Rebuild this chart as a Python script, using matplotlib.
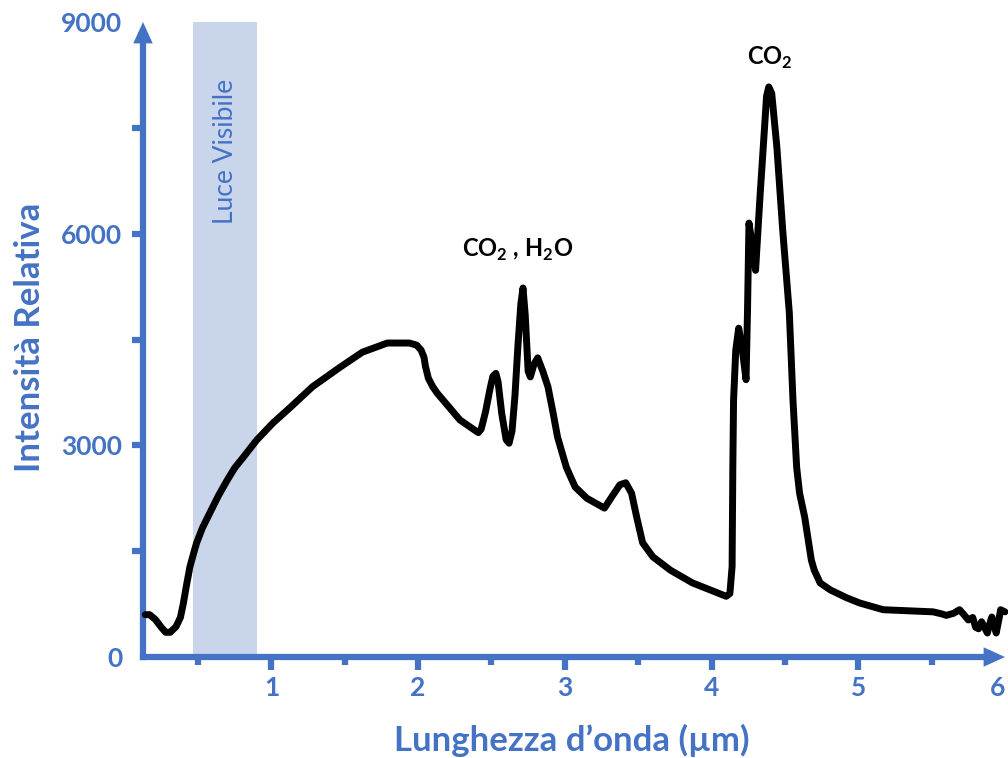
import numpy as np
import matplotlib
matplotlib.use("Agg")
import matplotlib.pyplot as plt

# --- Daten --------------------------------------------------------------------
wavelength = [
    0.14, 0.17, 0.21, 0.25, 0.28, 0.31, 0.35, 0.38, 0.40, 0.42, 0.445, 0.47,
    0.49, 0.53, 0.58, 0.64, 0.70, 0.75, 0.81, 0.90, 1.01, 1.13, 1.28, 1.47,
    1.62, 1.79, 1.94, 1.99, 2.02, 2.04, 2.05, 2.07, 2.10, 2.13, 2.285, 2.41,
    2.43, 2.46, 2.49, 2.51, 2.53, 2.545, 2.57, 2.60, 2.62, 2.64, 2.66, 2.68,
    2.70, 2.715, 2.73, 2.75, 2.765, 2.79, 2.815, 2.85, 2.885, 2.92, 2.95, 3.01,
    3.07, 3.15, 3.27, 3.32, 3.375, 3.415, 3.455, 3.49, 3.53, 3.60, 3.72, 3.87,
    4.04, 4.10, 4.125, 4.14, 4.145, 4.15, 4.165, 4.185, 4.21, 4.235, 4.245,
    4.255, 4.28, 4.30, 4.33, 4.36, 4.375, 4.39, 4.41, 4.445, 4.485, 4.53,
    4.555, 4.58, 4.60, 4.635, 4.68, 4.70, 4.74, 4.81, 4.92, 5.01, 5.17, 5.51,
    5.57, 5.60, 5.65, 5.69, 5.72, 5.75, 5.78, 5.80, 5.82, 5.84, 5.86, 5.88,
    5.90, 5.91, 5.93, 5.94, 5.96, 5.97, 6.0,
]
intensity = [
    600, 600, 530, 420, 350, 350, 430, 560, 760, 1000, 1280, 1470,
    1615, 1830, 2040, 2290, 2510, 2680, 2835, 3075, 3315, 3540, 3830, 4110,
    4320, 4450, 4450, 4420, 4350, 4250, 4120, 3950, 3830, 3740, 3360, 3180,
    3230, 3480, 3800, 3980, 4020, 3900, 3450, 3080, 3030, 3200, 3700, 4400,
    5000, 5230, 4850, 4050, 3970, 4150, 4240, 4050, 3830, 3460, 3120, 2690,
    2410, 2250, 2110, 2270, 2440, 2470, 2320, 1980, 1620, 1420, 1230, 1050,
    910, 860, 900, 1280, 2690, 3640, 4350, 4660, 4350, 3930, 4900,
    6150, 5810, 5480, 6520, 7470, 7950, 8080, 7990, 7230, 6050, 4880,
    3640, 2690, 2320, 1980, 1375, 1230, 1050, 950, 840, 765, 670, 640,
    610, 590, 620, 670, 600, 525, 560, 420, 400, 500, 420, 340,
    500, 567, 420, 340, 550, 670, 640,
]

visible_band = (0.465, 0.905)
x_major = [1, 2, 3, 4, 5, 6]
x_minor = [0.5, 1.5, 2.5, 3.5, 4.5, 5.5]
y_major = [0, 3000, 6000, 9000]
y_minor = [1500, 4500, 7500]

BLUE = "#4472C4"
BAND = "#C9D5EB"

plt.rcParams["font.family"] = ["Lato", "DejaVu Sans"]
plt.rcParams["mathtext.fontset"] = "custom"
plt.rcParams["mathtext.rm"] = "Lato"
plt.rcParams["mathtext.bf"] = "Lato:bold"

fig = plt.figure(figsize=(10.08, 7.58), dpi=100)
ax = fig.add_axes([143 / 1008, 101 / 758, 862 / 1008, 635 / 758])
ax.set_xlim(0.125, 6.0)
ax.set_ylim(0, 9000)

# Band sichtbares Licht
ax.axvspan(*visible_band, color=BAND, lw=0, zorder=1)
ax.text(sum(visible_band) / 2, 7170, "Luce Visibile", rotation=90, color=BLUE,
        fontsize=19, ha="center", va="center", zorder=2)

# Spektrum
ax.plot(wavelength, intensity, color="black", lw=5,
        solid_joinstyle="round", solid_capstyle="round", zorder=3, clip_on=False)

# Beschriftungen der Banden
ax.text(2.68, 5770, r"CO$_\mathbf{2}$ , H$_\mathbf{2}$O", fontsize=17,
        fontweight="bold", ha="center", va="center")
ax.text(4.40, 8490, r"CO$_\mathbf{2}$", fontsize=17, fontweight="bold",
        ha="center", va="center")

# Achsen mit Pfeilen
for s in ["top", "right"]:
    ax.spines[s].set_visible(False)
for s in ["bottom", "left"]:
    ax.spines[s].set_color(BLUE)
    ax.spines[s].set_linewidth(4.5)
    ax.spines[s].set_capstyle("projecting")
ax.spines["bottom"].set_bounds(0.125, 5.9)
ax.spines["left"].set_bounds(0, 8800)

arrow = dict(arrowstyle="-|>,head_length=1.1,head_width=0.5", mutation_scale=14,
             color=BLUE, lw=0, shrinkA=0, shrinkB=0)
ax.annotate("", xy=(6.0, 0), xytext=(5.8, 0), arrowprops=arrow,
            annotation_clip=False)
ax.annotate("", xy=(0.125, 9000), xytext=(0.125, 8600), arrowprops=arrow,
            annotation_clip=False)

ax.set_xticks(x_major)
ax.set_xticks(x_minor, minor=True)
ax.set_yticks(y_major)
ax.set_yticks(y_minor, minor=True)
ax.set_yticklabels([str(v) for v in y_major])

ax.tick_params(axis="x", which="major", direction="out", length=9, width=4.5,
               color=BLUE, labelcolor=BLUE, labelsize=19, pad=5)
ax.tick_params(axis="x", which="minor", direction="out", length=5.5, width=4.5,
               color=BLUE)
ax.tick_params(axis="y", which="both", direction="out", length=8, width=4.5,
               color=BLUE, labelcolor=BLUE, labelsize=19, pad=7)
for lab in ax.get_xticklabels() + ax.get_yticklabels():
    lab.set_fontweight("bold")
# letzte Beschriftung (6) sitzt am rechten Rand
ax.get_xticklabels()[-1].set_horizontalalignment("right")

ax.xaxis.get_major_ticks()[-1].tick1line.set_visible(False)
ax.yaxis.get_major_ticks()[0].tick1line.set_visible(False)
ax.yaxis.get_major_ticks()[-1].tick1line.set_visible(False)

fig.text(572 / 1008, 1 - 740 / 758, "Lunghezza d\u2019onda (\u00b5m)", color=BLUE,
         fontsize=25, fontweight="bold", ha="center", va="center")
fig.text(30 / 1008, 1 - 337 / 758, "Intensit\u00e0 Relativa", color=BLUE,
         fontsize=25, fontweight="bold", ha="center", va="center", rotation=90)

fig.savefig("out.png", dpi=100)
plt.close(fig)
